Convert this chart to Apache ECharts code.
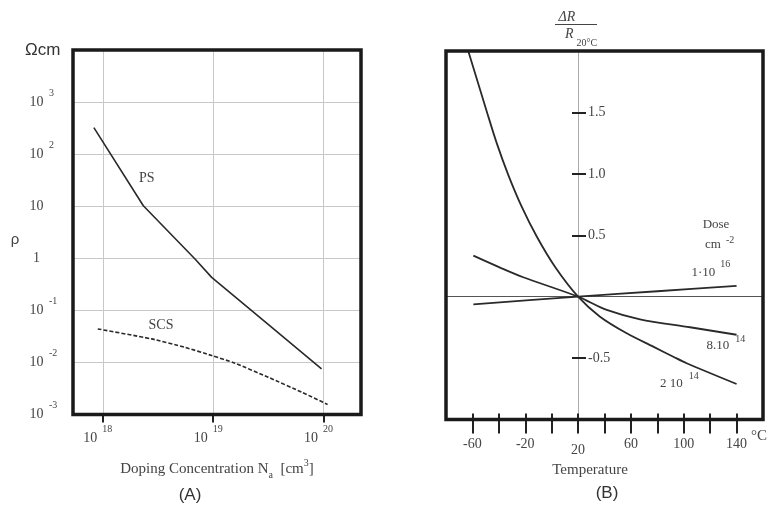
<!DOCTYPE html>
<html><head><meta charset="utf-8">
<script src="https://cdn.jsdelivr.net/npm/echarts@6/dist/echarts.min.js"></script>
<style>html,body{margin:0;padding:0;background:#fff}#c{width:780px;height:506px}</style>
</head><body><div id="c"></div>
<script>
// ---------- Panel A: resistivity vs doping ----------
const dopingPS = [8.3e17, 2.33e18, 6.85e18, 9.7e18, 3.4e19, 9.6e19];
const rhoPS = [324, 10.2, 0.97, 0.43, 0.0472, 0.0075];
const dopingSCS = [9.0e17, 2.77e18, 5.56e18, 9.7e18, 1.58e19, 3.16e19, 6.35e19, 1.09e20];
const rhoSCS = [0.044, 0.0283, 0.0195, 0.01355, 0.00964, 0.00519, 0.00268, 0.00156];
const dopingTicks = [1e18, 1e19, 1e20];

// ---------- Panel B: dR/R vs temperature ----------
const tempTicks = [-60, -40, -20, 0, 20, 40, 60, 80, 100, 120, 140];
const tempLabels = [-60, -20, 20, 60, 100, 140];
const dRTicks = [-0.5, 0.5, 1.0, 1.5];
const temp2e14 = [-64, -49.2, -41.6, -32.8, -22.7, -11.3, 2.5, 20, 36.6, 56.8, 76.9, 92.1, 102.2, 140];
const dR2e14 = [2.03, 1.51, 1.25, 0.99, 0.733, 0.49, 0.244, 0, -0.163, -0.298, -0.407, -0.489, -0.542, -0.711];
const temp8e14 = [-59.3, -39.1, -21.5, 20, 41.7, 66.9, 104.7, 140];
const dR8e14 = [0.334, 0.237, 0.158, 0, -0.108, -0.184, -0.249, -0.31];
const temp1e16 = [-59.3, 20, 80, 140];
const dR1e16 = [-0.062, 0, 0.044, 0.088];

const SERIF = '"Liberation Serif", "DejaVu Serif", serif';
const SANS = '"Liberation Sans", Arial, sans-serif';
const INK = '#2a2a2a';
const TXT = '#444';

const zip = (a, b) => a.map((v, i) => [v, b[i]]);

function supText(x, y, main, sup, opts) {
  opts = opts || {};
  return {
    type: 'text', x: x, y: y, silent: true, z: 30,
    style: {
      text: '{n|' + main + '}' + (sup ? '{s|' + sup + '}' : ''),
      align: opts.align || 'left', verticalAlign: 'middle',
      rich: {
        n: {fontFamily: SERIF, fontSize: opts.size || 13, lineHeight: opts.lh || 26, fill: TXT},
        s: {fontFamily: SERIF, fontSize: 10, lineHeight: 10, verticalAlign: 'top', padding: [0, 0, 0, opts.gap == null ? 4 : opts.gap], fill: TXT}
      }
    }
  };
}
function plainText(x, y, text, font, size, extra) {
  return {type: 'text', x: x, y: y, silent: true, z: 30,
    style: Object.assign({text: text, fontFamily: font, fontSize: size, fill: TXT, align: 'center', verticalAlign: 'middle'}, extra || {})};
}

const chart = echarts.init(document.getElementById('c'), null, {renderer: 'canvas'});
chart.setOption({
  animation: false,
  backgroundColor: '#fff',
  grid: [
    {left: 73, top: 50, width: 288, height: 364.5, show: true, borderColor: '#1a1a1a', borderWidth: 3.5, backgroundColor: 'transparent', z: 20, outerBoundsMode: 'none'},
    {left: 446, top: 51, width: 317, height: 368.5, show: true, borderColor: '#1a1a1a', borderWidth: 3.5, backgroundColor: 'transparent', z: 20, outerBoundsMode: 'none'}
  ],
  xAxis: [
    {
      gridIndex: 0, type: 'log', logBase: 10,
      min: Math.pow(10, 17.73), max: Math.pow(10, 20.34),
      axisLine: {show: false, onZero: false},
      axisTick: {show: true, customValues: dopingTicks, length: 8, lineStyle: {color: '#222', width: 2}},
      axisLabel: {
        customValues: dopingTicks, margin: 10,
        formatter: v => '{b|10}{s|' + Math.round(Math.log10(v)) + '}',
        rich: {
          b: {fontFamily: SERIF, fontSize: 14, lineHeight: 28, color: TXT},
          s: {fontFamily: SERIF, fontSize: 10, lineHeight: 10, verticalAlign: 'top', padding: [0, 10, 0, 5], color: TXT}
        }
      },
      splitLine: {show: true, lineStyle: {color: '#c8c8c8', width: 1}},
      name: '{t|Doping Concentration N}{sub|a}{t|  [cm}{sup|3}{t|]}',
      nameLocation: 'middle', nameGap: 44,
      nameTextStyle: {
        fontFamily: SERIF, fontSize: 15, color: TXT,
        rich: {
          t: {fontFamily: SERIF, fontSize: 15, lineHeight: 22, color: TXT},
          sub: {fontFamily: SERIF, fontSize: 10, lineHeight: 10, verticalAlign: 'bottom', color: TXT},
          sup: {fontFamily: SERIF, fontSize: 10, lineHeight: 10, verticalAlign: 'top', color: TXT}
        }
      }
    },
    {
      gridIndex: 1, type: 'value', min: -80, max: 160, interval: 20, position: 'bottom',
      axisLine: {show: false, onZero: false},
      axisTick: {show: true, customValues: tempTicks, length: 14, lineStyle: {color: '#222', width: 2}},
      axisLabel: {
        customValues: tempLabels, margin: 18, fontFamily: SERIF, fontSize: 14, color: TXT,
        formatter: v => v === 20 ? '{l|20}' : String(v),
        rich: {l: {fontFamily: SERIF, fontSize: 14, color: TXT, padding: [6, 0, 0, 0]}}
      },
      splitLine: {show: false},
      name: 'Temperature', nameLocation: 'middle', nameGap: 35,
      nameTextStyle: {fontFamily: SERIF, fontSize: 15, color: TXT, padding: [0, 29, 0, 0]}
    },
    {
      gridIndex: 1, type: 'value', min: -80, max: 160, interval: 20, position: 'bottom',
      axisLine: {show: false, onZero: false},
      axisTick: {show: true, inside: true, customValues: tempTicks, length: 6, lineStyle: {color: '#222', width: 2}},
      axisLabel: {show: false},
      splitLine: {show: false}
    }
  ],
  yAxis: [
    {
      gridIndex: 0, type: 'log', logBase: 10, min: 1e-3, max: 1e4,
      axisLine: {show: false, onZero: false},
      axisTick: {show: false},
      axisLabel: {
        align: 'left', margin: 45,
        formatter: v => {
          const e = Math.round(Math.log10(v));
          if (e === 4) return '{u|Ωcm}';
          if (e === 0) return '{b|1}';
          if (e === 1) return '{b|10}';
          return '{b|10}{s|' + e + '}';
        },
        rich: {
          b: {fontFamily: SERIF, fontSize: 14, lineHeight: 28, width: 17, align: 'center', color: TXT},
          s: {fontFamily: SERIF, fontSize: 10, lineHeight: 10, verticalAlign: 'top', padding: [0, 0, 0, 4], color: TXT},
          u: {fontFamily: SANS, fontSize: 17, color: '#333', padding: [0, 0, 0, -3]}
        }
      },
      splitLine: {show: true, lineStyle: {color: '#c8c8c8', width: 1}}
    },
    {
      gridIndex: 1, type: 'value', min: -1, max: 2, interval: 0.5, position: 'left', offset: -132,
      axisLine: {show: true, onZero: false, lineStyle: {color: '#aaa', width: 1}},
      axisTick: {show: true, customValues: dRTicks, length: 6, lineStyle: {color: '#222', width: 2}},
      axisLabel: {customValues: dRTicks, inside: true, margin: 10, fontFamily: SERIF, fontSize: 14, color: TXT,
        formatter: v => v.toFixed(1)},
      splitLine: {show: false}
    },
    {
      gridIndex: 1, type: 'value', min: -1, max: 2, interval: 0.5, position: 'left', offset: -132,
      axisLine: {show: false, onZero: false},
      axisTick: {show: true, inside: true, customValues: dRTicks, length: 8, lineStyle: {color: '#222', width: 2}},
      axisLabel: {show: false},
      splitLine: {show: false}
    }
  ],
  series: [
    {
      name: 'PS', type: 'line', xAxisIndex: 0, yAxisIndex: 0, data: zip(dopingPS, rhoPS),
      showSymbol: false, symbol: 'none', lineStyle: {color: INK, width: 1.6}, z: 5
    },
    {
      name: 'SCS', type: 'line', xAxisIndex: 0, yAxisIndex: 0, data: zip(dopingSCS, rhoSCS),
      showSymbol: false, symbol: 'none', smooth: 0.2, lineStyle: {color: INK, width: 1.6, type: [4, 2]}, z: 5
    },
    {
      name: '1·10^16', type: 'line', xAxisIndex: 1, yAxisIndex: 1, data: zip(temp1e16, dR1e16),
      showSymbol: false, symbol: 'none', smooth: 0.3, lineStyle: {color: INK, width: 1.8}, z: 5,
      markLine: {
        silent: true, symbol: ['none', 'none'], label: {show: false},
        lineStyle: {color: '#555', width: 1, type: 'solid'},
        data: [{yAxis: 0}]
      }
    },
    {
      name: '8·10^14', type: 'line', xAxisIndex: 1, yAxisIndex: 1, data: zip(temp8e14, dR8e14),
      showSymbol: false, symbol: 'none', smooth: 0.3, lineStyle: {color: INK, width: 1.8}, z: 5
    },
    {
      name: '2·10^14', type: 'line', xAxisIndex: 1, yAxisIndex: 1, data: zip(temp2e14, dR2e14),
      showSymbol: false, symbol: 'none', smooth: 0.3, lineStyle: {color: INK, width: 1.8}, z: 5
    }
  ],
  graphic: [
    plainText(15, 240, 'ρ', SANS, 15),
    plainText(146.7, 178.3, 'PS', SERIF, 14),
    plainText(161, 325, 'SCS', SERIF, 14),
    plainText(190, 495, '(A)', SANS, 17, {fill: '#333'}),
    plainText(607, 493, '(B)', SANS, 17, {fill: '#333'}),
    plainText(751, 436, '°C', SERIF, 15, {align: 'left'}),
    // fraction dR / R20°C
    plainText(567, 17.5, 'ΔR', SERIF, 14, {fontStyle: 'italic'}),
    {type: 'line', silent: true, z: 30, shape: {x1: 555, y1: 24.5, x2: 597, y2: 24.5}, style: {stroke: TXT, lineWidth: 1}},
    {type: 'text', x: 565, y: 34, silent: true, z: 30,
      style: {text: '{r|R}{s|20°C}', align: 'left', verticalAlign: 'middle',
        rich: {
          r: {fontFamily: SERIF, fontStyle: 'italic', fontSize: 14, lineHeight: 28, fill: TXT},
          s: {fontFamily: SERIF, fontSize: 10, lineHeight: 10, verticalAlign: 'bottom', padding: [0, 0, 0, 3], fill: TXT}
        }}},
    // dose annotations
    plainText(716, 225, 'Dose', SERIF, 13),
    supText(705, 244.3, 'cm', '-2', {gap: 5, lh: 18}),
    supText(691.5, 272.7, '1·10', '16', {gap: 5}),
    supText(706.5, 346, '8.10', '14', {gap: 6, lh: 24}),
    supText(660, 384, '2 10', '14', {gap: 6})
  ]
});
</script>
</body></html>
